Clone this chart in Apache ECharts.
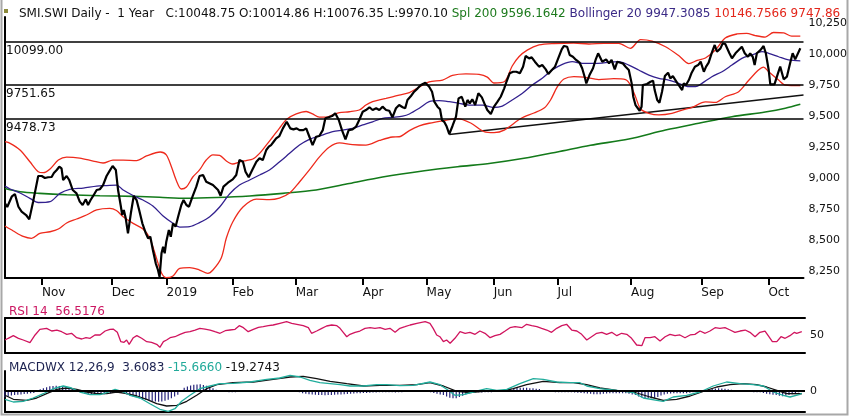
<!DOCTYPE html>
<html>
<head>
<meta charset="utf-8">
<script src="https://cdn.jsdelivr.net/npm/echarts@6/dist/echarts.min.js"></script>
<style>
  html, body { margin: 0; padding: 0; background: #fff; }
  #main { width: 850px; height: 417px; }
</style>
</head>
<body>
<div id="main"></div>
<script>
// trading-day index (0 = mid Oct 2018, 249 = mid Oct 2019) and values
var monthTicks = [11.6, 33.4, 50.6, 71.25, 91, 112, 132, 153, 173, 196, 218, 239];
var monthNames = ['Nov', 'Dec', '2019', 'Feb', 'Mar', 'Apr', 'May', 'Jun', 'Jul', 'Aug', 'Sep', 'Oct'];
var priceTicks = [8250, 8500, 8750, 9000, 9250, 9500, 9750, 10000, 10250];
var levels = [10099.00, 9751.65, 9478.73];

var closePts = [[0,8797],[0.7,8767],[2.1,8850],[3.1,8872],[4.2,8769],[5.2,8729],[6.6,8702],[7.6,8667],[8.8,8810],[10.4,9017],[11.5,9017],[12.5,9001],[13.5,9007],[14.6,9009],[15.3,9041],[16.2,9066],[17.0,9092],[17.7,9079],[18.2,8985],[19.3,9017],[20.1,8985],[21.2,8904],[22.4,8877],[23.4,8810],[24.3,8783],[25.3,8829],[26.0,8783],[26.8,8823],[27.6,8856],[28.7,8904],[29.7,8910],[30.7,8944],[31.8,9017],[32.8,9060],[33.7,9098],[34.7,9066],[35.4,8904],[36.2,8783],[36.7,8702],[37.2,8742],[37.8,8675],[38.5,8554],[39.4,8716],[40.3,8856],[41.2,8823],[42.0,8742],[43.0,8635],[44.1,8554],[44.8,8514],[45.5,8527],[46.3,8420],[47.2,8312],[47.9,8258],[48.4,8202],[49.0,8393],[49.5,8446],[50.0,8393],[50.5,8487],[51.3,8581],[51.9,8527],[52.6,8635],[53.4,8608],[54.2,8688],[55.2,8783],[55.9,8823],[56.8,8783],[57.6,8769],[58.7,8850],[59.9,8931],[60.9,9017],[62.0,9025],[63.0,8971],[65.1,8944],[66.7,8904],[67.5,8858],[68.4,8931],[69.8,8963],[71.3,8990],[72.4,9025],[73.4,9146],[74.5,9132],[75.3,9052],[76.3,9007],[77.4,9066],[78.7,9132],[79.7,9160],[80.7,9146],[81.8,9227],[82.6,9254],[83.3,9267],[84.1,9294],[84.9,9321],[85.9,9340],[87.0,9402],[88.2,9455],[89.3,9402],[90.3,9394],[91.3,9402],[92.2,9388],[93.4,9388],[94.3,9402],[95.3,9334],[96.3,9267],[97.4,9334],[98.4,9340],[99.5,9388],[100.3,9483],[101.3,9491],[102.4,9501],[103.4,9523],[104.5,9469],[105.5,9388],[106.6,9313],[107.6,9388],[108.8,9394],[109.9,9415],[110.9,9469],[112.0,9536],[113.0,9550],[114.1,9572],[115.1,9550],[116.2,9564],[117.2,9550],[118.2,9577],[119.3,9550],[120.3,9544],[121.3,9491],[122.4,9564],[123.4,9590],[124.5,9572],[125.3,9564],[126.0,9631],[127.1,9663],[128.1,9698],[129.2,9725],[130.2,9752],[131.6,9770],[132.8,9738],[133.7,9698],[134.4,9617],[135.4,9577],[136.2,9556],[136.8,9469],[137.5,9455],[138.2,9421],[139.1,9355],[140.1,9421],[141.2,9496],[142.0,9644],[143.0,9657],[144.1,9577],[144.8,9631],[145.5,9604],[146.3,9636],[147.2,9590],[148.2,9685],[149.3,9652],[150.3,9590],[151.0,9550],[152.1,9518],[153.1,9577],[154.2,9617],[155.2,9657],[156.3,9725],[157.0,9778],[158.0,9846],[159.1,9859],[160.1,9859],[161.2,9846],[162.2,9900],[163.0,9986],[164.1,9967],[164.9,9975],[165.9,9940],[167.2,9900],[168.2,9913],[169.3,9878],[170.1,9841],[171.2,9873],[172.2,9900],[173.2,9967],[174.3,10040],[175.0,10067],[176.0,10061],[176.8,9994],[177.8,9980],[178.8,9954],[179.9,9932],[180.7,9887],[181.6,9806],[182.0,9765],[183.0,9832],[184.1,9887],[184.9,9954],[185.7,10008],[187.0,9940],[188.2,9959],[189.1,9927],[189.9,9954],[190.9,9878],[191.7,9940],[192.7,9932],[193.4,9927],[194.3,9900],[195.3,9873],[196.2,9765],[196.7,9657],[197.4,9590],[198.7,9544],[199.3,9577],[199.7,9752],[201.0,9760],[202.1,9778],[202.9,9787],[203.4,9711],[204.2,9631],[204.9,9609],[205.7,9698],[206.6,9824],[207.6,9851],[208.3,9806],[209.1,9824],[209.9,9792],[210.9,9752],[212.0,9711],[212.5,9765],[213.2,9752],[214.1,9792],[214.9,9846],[216.0,9900],[217.0,9913],[217.8,9940],[218.8,9859],[219.5,9900],[220.3,9932],[221.3,10013],[222.2,10075],[222.9,10021],[224.0,10048],[224.7,10088],[225.5,10083],[226.8,10008],[227.6,9967],[228.7,10008],[229.7,10034],[230.7,10061],[231.6,10008],[232.6,9980],[233.3,10008],[234.1,9980],[234.7,9913],[235.4,10008],[236.5,10034],[237.5,10067],[238.2,10008],[239.1,9873],[239.6,9757],[240.9,9757],[242.0,9846],[242.7,9900],[243.8,9798],[244.8,9819],[245.8,9927],[246.6,10008],[247.4,9959],[249,10048.75]];

var upperPts = [[0,9294],[1.6,9281],[4.7,9227],[7.8,9132],[10.4,9052],[12.0,9044],[14.1,9074],[16.7,9146],[19.3,9170],[23.4,9162],[27.6,9138],[30.7,9122],[33.8,9146],[37.0,9146],[41.2,9142],[44.3,9179],[48.6,9211],[50.5,9187],[52.1,9092],[53.7,8977],[55.2,8912],[56.8,8928],[58.8,9009],[60.9,9066],[63.0,9146],[65.1,9187],[67.2,9183],[69.3,9138],[71.3,9114],[73.4,9130],[75.5,9142],[77.6,9154],[79.7,9200],[81.8,9267],[83.8,9332],[85.9,9402],[88.2,9475],[91.2,9518],[94.3,9538],[96.3,9518],[98.4,9493],[100.5,9493],[102.6,9510],[104.7,9528],[107.8,9536],[110.9,9550],[113.0,9590],[115.1,9617],[117.2,9631],[119.3,9644],[121.3,9657],[123.4,9671],[126.6,9691],[129.7,9736],[132.8,9778],[137.0,9792],[140.1,9829],[144.3,9841],[148.4,9837],[151.0,9816],[153.1,9768],[156.3,9778],[158.8,9905],[160.9,9980],[163.5,10034],[167.2,10075],[171.9,10087],[178.1,10091],[182.8,10083],[187.5,10088],[192.2,10088],[195.8,10048],[199.0,10119],[202.6,10107],[206.8,10061],[210.9,9990],[214.1,9925],[216.7,9950],[219.3,9970],[222.4,10034],[225.5,10131],[229.2,10164],[232.2,10169],[234.9,10151],[238.0,10139],[240.6,10176],[243.8,10172],[246.3,10147],[249,10146.76]];

var lowerPts = [[0,8613],[2.6,8573],[5.7,8529],[8.3,8514],[10.9,8554],[14.1,8567],[16.7,8589],[19.3,8638],[22.4,8670],[25.5,8702],[28.7,8743],[32.8,8755],[34.9,8738],[37.0,8688],[40.1,8635],[43.2,8589],[45.3,8516],[47.4,8355],[49.0,8234],[50.5,8196],[52.6,8210],[54.7,8272],[57.8,8278],[60.9,8258],[63.5,8231],[65.1,8258],[67.7,8355],[69.3,8516],[71.3,8646],[74.5,8767],[78.7,8831],[82.8,8827],[85.9,8839],[89.1,8880],[92.2,8969],[95.3,9066],[98.4,9170],[101.6,9251],[104.7,9284],[108.8,9271],[113.0,9267],[117.2,9304],[121.3,9332],[123.4,9334],[126.6,9384],[129.7,9421],[132.8,9443],[137.5,9465],[141.7,9481],[145.8,9445],[150.0,9376],[153.1,9368],[156.3,9388],[161.5,9481],[165.6,9526],[168.8,9566],[170.8,9631],[172.9,9736],[175.0,9800],[178.1,9820],[181.3,9816],[185.9,9796],[190.6,9804],[194.3,9796],[195.8,9752],[197.4,9657],[199.0,9558],[201.6,9523],[204.7,9510],[208.8,9522],[212.0,9550],[215.1,9572],[219.3,9615],[222.4,9611],[225.5,9657],[229.7,9698],[232.8,9788],[235.9,9873],[237.5,9897],[239.1,9859],[242.2,9792],[244.3,9752],[249,9747.86]];

var midPts = [[0,8936],[1.6,8912],[4.7,8880],[7.8,8837],[10.4,8803],[14.1,8810],[17.2,8877],[20.3,8910],[24.5,8920],[28.7,8936],[31.8,8940],[34.9,8944],[37.0,8904],[40.1,8860],[43.2,8823],[46.3,8775],[49.5,8694],[52.6,8635],[54.7,8605],[57.8,8608],[60.9,8640],[64.1,8688],[67.2,8767],[70.3,8872],[73.4,8944],[76.6,8985],[79.7,9025],[82.8,9066],[85.9,9130],[89.1,9200],[92.2,9267],[95.3,9313],[98.4,9340],[102.6,9375],[105.7,9388],[108.8,9402],[112.0,9429],[115.1,9455],[118.2,9483],[121.3,9491],[124.5,9501],[126.6,9518],[129.7,9564],[132.8,9617],[135.9,9625],[139.1,9617],[142.2,9604],[145.3,9590],[149.5,9590],[152.6,9572],[155.7,9582],[158.8,9631],[162.0,9685],[165.1,9752],[168.2,9806],[171.3,9873],[174.5,9919],[177.6,9940],[180.7,9927],[183.8,9927],[187.0,9929],[189.1,9936],[192.2,9940],[195.3,9913],[198.4,9873],[201.6,9832],[204.7,9806],[207.8,9792],[210.9,9765],[214.1,9738],[216.2,9738],[218.2,9765],[221.3,9819],[224.5,9859],[227.6,9913],[230.7,9967],[233.8,9994],[237.0,10021],[239.1,10008],[242.2,9980],[245.3,9954],[249,9947.31]];

var sma200Pts = [[0,8916],[4.7,8890],[10.9,8877],[19.3,8866],[29.7,8858],[40.1,8853],[48.4,8845],[56.8,8837],[66.2,8843],[76.6,8856],[87.0,8877],[97.4,8904],[107.8,8956],[118.2,9009],[131.3,9060],[141.7,9092],[152.1,9120],[162.5,9160],[172.9,9211],[183.3,9265],[195.3,9316],[206.8,9388],[217.2,9443],[227.6,9496],[238.0,9534],[244.3,9564],[249,9596.16]];

var trendPts = [[139.1, 9352], [250, 9671]];

var rsiPts = [[0,42.3],[1.0,45.2],[2.6,49.7],[4.2,45.2],[5.7,42.3],[7.8,37.7],[9.4,50.9],[10.9,60.6],[13.0,62.3],[14.6,57.7],[16.2,59.4],[17.7,56.5],[19.3,52.0],[20.8,53.8],[22.4,46.2],[24.0,44.0],[25.3,46.2],[26.6,45.2],[28.1,50.9],[29.7,50.9],[31.3,57.7],[32.8,60.6],[33.8,61.1],[35.1,55.5],[36.2,39.4],[37.2,38.3],[38.0,42.3],[38.8,34.9],[40.1,46.2],[41.2,49.7],[42.7,45.2],[44.3,39.4],[45.8,38.3],[47.4,34.9],[48.4,29.8],[49.5,39.4],[50.5,42.3],[51.6,46.2],[53.1,47.9],[54.7,52.0],[56.3,55.5],[57.8,56.5],[59.4,59.4],[60.9,62.3],[62.5,61.1],[64.1,59.4],[65.6,56.5],[67.2,53.8],[68.8,58.2],[70.3,59.4],[71.9,60.6],[73.2,66.8],[74.5,63.4],[76.0,56.5],[77.6,60.6],[79.2,64.1],[80.7,65.1],[82.3,66.8],[83.8,68.0],[85.9,70.9],[88.0,73.7],[89.6,70.9],[91.2,69.2],[93.2,66.8],[94.8,63.4],[95.8,53.8],[97.4,57.7],[99.0,62.3],[100.5,66.3],[102.1,68.0],[103.7,66.8],[104.7,62.3],[105.7,55.5],[106.8,47.9],[107.8,52.0],[109.4,55.5],[110.9,57.7],[112.5,62.3],[114.1,63.4],[115.6,62.3],[117.2,63.4],[118.8,60.6],[120.3,62.3],[121.9,55.5],[123.4,62.3],[125.0,65.1],[126.6,68.0],[128.7,70.9],[131.3,73.7],[132.8,70.9],[133.8,62.3],[134.9,50.9],[135.9,47.9],[137.0,39.4],[138.0,42.3],[139.1,36.6],[140.6,45.2],[142.2,56.5],[143.8,53.8],[145.3,55.5],[146.9,52.0],[148.4,57.7],[150.0,53.8],[151.6,46.2],[153.1,49.7],[154.7,52.0],[156.3,57.7],[157.8,63.4],[159.4,65.1],[161.5,63.4],[163.0,69.2],[164.6,66.8],[166.2,65.1],[167.7,62.3],[169.3,59.4],[170.8,55.5],[172.4,62.3],[174.0,66.8],[175.5,69.2],[177.1,59.4],[178.7,57.7],[180.2,52.0],[181.8,42.3],[183.3,47.9],[184.9,53.8],[186.5,55.5],[188.0,52.0],[189.6,55.5],[191.2,49.7],[192.7,53.8],[194.3,52.0],[195.8,45.2],[197.4,33.7],[199.0,32.5],[200.0,46.2],[201.6,46.2],[203.1,47.9],[204.7,40.6],[206.3,47.9],[207.8,52.0],[209.4,49.7],[210.9,50.9],[212.5,46.2],[214.1,50.9],[215.6,52.0],[217.2,57.7],[218.8,53.8],[220.3,57.7],[221.9,63.4],[223.4,62.3],[225.0,63.4],[226.6,59.4],[228.1,55.5],[229.7,57.7],[231.3,59.4],[232.8,55.5],[234.4,47.9],[235.9,55.5],[237.5,57.7],[238.5,49.7],[239.8,39.4],[241.2,39.4],[242.5,47.9],[243.8,45.2],[245.3,49.7],[246.7,55.5],[247.4,53.8],[249,56.5]];

var macdPts = [[0,-58],[2.6,-77],[5.7,-72],[8.8,-49],[12.0,-19],[15.1,16],[18.2,35],[20.8,21],[23.4,-7],[26.6,-26],[29.7,-26],[31.8,-12],[34.4,12],[36.5,-2],[39.1,-30],[42.2,-49],[45.3,-89],[48.4,-128],[51.0,-142],[53.1,-124],[55.2,-72],[57.8,-30],[60.9,16],[64.1,35],[67.2,51],[71.3,54],[76.6,63],[81.8,82],[85.9,91],[89.1,110],[92.2,98],[95.3,75],[98.4,58],[101.6,51],[104.7,44],[107.8,35],[112.0,35],[116.2,44],[119.3,44],[123.4,38],[127.6,40],[132.8,63],[135.9,44],[138.5,5],[140.6,-30],[143.2,-26],[146.3,-7],[150.5,16],[153.7,5],[156.8,12],[160.9,51],[165.1,86],[168.2,82],[172.4,63],[176.6,58],[179.7,58],[181.8,35],[185.9,16],[191.2,5],[196.4,-12],[199.5,-49],[203.7,-65],[205.7,-72],[208.8,-42],[213.0,-30],[217.2,-7],[221.3,35],[225.5,63],[229.7,51],[233.8,44],[237.0,35],[240.1,-7],[243.2,-30],[245.3,-42],[248.4,-23],[249,-15.67]];

var signalPts = [[0,-30],[2.6,-58],[6.8,-65],[9.9,-49],[13.0,-19],[16.2,12],[19.3,21],[22.4,12],[25.5,-7],[28.7,-19],[31.8,-19],[34.9,-7],[38.0,-19],[41.2,-35],[44.3,-58],[47.4,-89],[50.5,-105],[53.7,-100],[56.8,-72],[59.9,-30],[63.0,16],[66.2,44],[71.3,58],[77.6,63],[83.8,82],[89.1,98],[93.2,103],[97.4,86],[101.6,68],[106.8,51],[112.0,35],[117.2,40],[123.4,40],[128.7,44],[132.8,58],[137.0,35],[141.2,-2],[145.3,-12],[149.5,-2],[154.7,-2],[158.8,16],[163.0,44],[168.2,68],[173.4,58],[177.6,58],[181.8,44],[185.9,21],[191.2,5],[196.4,-7],[201.6,-42],[205.7,-65],[209.9,-58],[214.1,-35],[218.2,-2],[222.4,28],[226.6,44],[230.7,51],[234.9,44],[238.0,28],[241.2,5],[244.3,-19],[249,-19.27]];

// one histogram bar per trading day
var histVals = [
  -44,-38,-32,-28,-26,-24,-21,-19,-16,-14,
  -5,12,20,27,33,35,37,35,31,26,
  22,16,9,0,-14,-21,-25,-28,-27,-26,
  -24,-22,-19,-16,-12,-8,-5,-12,-22,-33,
  -38,-44,-51,-57,-62,-67,-70,-73,-75,-73,
  -69,-62,-50,-38,-26,-5,22,32,39,43,
  46,47,42,37,28,19,8,1,-4,-7,
  -9,-9,-8,-7,-6,-6,-5,-5,-3,-1,
  2,4,5,6,6,6,5,5,6,5,
  3,-2,-9,-15,-20,-23,-25,-27,-28,-28,
  -29,-28,-28,-27,-25,-24,-22,-21,-19,-18,
  -16,-15,-14,-14,-12,-11,-10,-9,-9,-9,
  -8,-9,-10,-9,-8,-7,-6,-5,-5,-5,
  -6,-6,-7,-9,-14,-19,-24,-28,-38,-47,
  -50,-51,-42,-34,-24,-18,-12,-9,-9,-10,
  -9,-9,-8,-7,-5,0,6,10,16,19,
  21,22,23,22,20,19,16,14,7,0,
  -4,-7,-8,-9,-9,-9,-9,-9,-10,-12,
  -14,-16,-18,-20,-22,-23,-22,-20,-18,-16,
  -16,-16,-16,-16,-16,-20,-24,-28,-38,-46,
  -49,-51,-50,-48,-42,-32,-25,-20,-17,-16,
  -16,-16,-16,-15,-12,-8,-4,0,5,10,
  14,16,18,19,18,15,12,9,5,2,
  -2,-5,-6,-7,-8,-9,-9,-14,-20,-23,
  -26,-28,-33,-37,-33,-28,-22,-16,-9,4
];

var FONT = 'DejaVu Sans';
var chart = echarts.init(document.getElementById('main'), null, { renderer: 'canvas' });

function noAxisX(grid, pos) {
  return {
    gridIndex: grid, type: 'value', min: 0, max: 250, position: pos,
    axisLine: { onZero: false, lineStyle: { color: '#000', width: 2 } },
    axisTick: { show: false }, axisLabel: { show: false }, splitLine: { show: false }
  };
}

var lineBase = { type: 'line', showSymbol: false, symbol: 'none', silent: true, animation: false };

var option = {
  backgroundColor: '#fff',
  animation: false,
  title: [
    {
      left: 14, top: 3,
      text: '{k|SMI.SWI Daily -  1 Year   C:10048.75 O:10014.86 H:10076.35 L:9970.10} {g|Spl 200 9596.1642} {b|Bollinger 20 9947.3085} {r|10146.7566 9747.86}',
      textStyle: {
        fontFamily: FONT, fontSize: 12, fontWeight: 'normal',
        rich: {
          k: { color: '#111', fontFamily: FONT, fontSize: 12 },
          g: { color: '#1d7a1d', fontFamily: FONT, fontSize: 12 },
          b: { color: '#3b2a86', fontFamily: FONT, fontSize: 12 },
          r: { color: '#e3261b', fontFamily: FONT, fontSize: 12 }
        }
      }
    },
    {
      left: 4, top: 301, text: 'RSI 14  56.5176',
      textStyle: { fontFamily: FONT, fontSize: 12, fontWeight: 'normal', color: '#cc1762' }
    },
    {
      left: 4, top: 357,
      text: '{n|MACDWX 12,26,9  3.6083} {t|-15.6660} {k|-19.2743}',
      textStyle: {
        fontFamily: FONT, fontSize: 12, fontWeight: 'normal',
        rich: {
          n: { color: '#1c2250', fontFamily: FONT, fontSize: 12 },
          t: { color: '#22aa9a', fontFamily: FONT, fontSize: 12 },
          k: { color: '#111', fontFamily: FONT, fontSize: 12 }
        }
      }
    }
  ],
  graphic: [
    { type: 'rect', shape: { x: 1.5, y: -4, width: 846, height: 418.5 },
      style: { fill: 'none', stroke: '#a8a8a8', lineWidth: 2 }, silent: true, z: 0 },
    { type: 'rect', shape: { x: 4, y: 9, width: 4, height: 4 },
      style: { fill: '#8c8a3c' }, silent: true }
  ],
  grid: [
    { left: 5, right: 45, top: 17, height: 261 },
    { left: 5, right: 45, top: 318, height: 35 },
    { left: 5, right: 45, top: 371, height: 41 }
  ],
  xAxis: [
    {
      gridIndex: 0, type: 'value', min: 0, max: 250,
      axisLine: { onZero: false, lineStyle: { color: '#000', width: 2 } },
      axisTick: { customValues: monthTicks, length: 7, lineStyle: { color: '#000', width: 2 } },
      axisLabel: {
        customValues: monthTicks, align: 'left', margin: 9,
        fontFamily: FONT, fontSize: 12, color: '#111',
        formatter: function (v) {
          var i = monthTicks.indexOf(v);
          return i >= 0 ? monthNames[i] : '';
        }
      },
      splitLine: { show: false }
    },
    noAxisX(1, 'bottom'),
    noAxisX(1, 'top'),
    noAxisX(2, 'bottom')
  ],
  yAxis: [
    {
      gridIndex: 0, type: 'value', position: 'right', min: 8193.5, max: 10301,
      axisLine: { show: true, lineStyle: { color: '#000', width: 2 } },
      axisTick: { show: false },
      axisLabel: { customValues: priceTicks, margin: 5, fontFamily: FONT, fontSize: 11, color: '#111' },
      splitLine: { show: false }
    },
    {
      gridIndex: 1, type: 'value', position: 'right', min: 20, max: 80,
      axisLine: { show: true, lineStyle: { color: '#000', width: 2 } },
      axisTick: { show: false },
      axisLabel: { customValues: [50], margin: 5, fontFamily: FONT, fontSize: 11, color: '#111' },
      splitLine: { show: false }
    },
    {
      gridIndex: 2, type: 'value', position: 'right', min: -147, max: 140,
      axisLine: { show: true, lineStyle: { color: '#000', width: 2 } },
      axisTick: { show: false },
      axisLabel: { customValues: [0], margin: 5, fontFamily: FONT, fontSize: 11, color: '#111' },
      splitLine: { show: false }
    }
  ],
  series: [
    Object.assign({}, lineBase, {
      name: 'levels', xAxisIndex: 0, yAxisIndex: 0, data: [],
      markLine: {
        silent: true, symbol: 'none', animation: false,
        lineStyle: { color: '#000', width: 1.5, type: 'solid' },
        label: {
          position: 'insideStartBottom', distance: [1, 3],
          fontFamily: FONT, fontSize: 12, color: '#111',
          formatter: function (p) { return p.value.toFixed(2); }
        },
        data: levels.map(function (v) { return { yAxis: v }; })
      }
    }),
    Object.assign({}, lineBase, { name: 'SMA200', xAxisIndex: 0, yAxisIndex: 0, data: sma200Pts, smooth: 0.3,
      lineStyle: { color: '#137a1a', width: 1.6 } }),
    Object.assign({}, lineBase, { name: 'trend', xAxisIndex: 0, yAxisIndex: 0, data: trendPts,
      lineStyle: { color: '#111', width: 1.4 } }),
    Object.assign({}, lineBase, { name: 'upper', xAxisIndex: 0, yAxisIndex: 0, data: upperPts, smooth: 0.3,
      lineStyle: { color: '#ee2a1c', width: 1.3 } }),
    Object.assign({}, lineBase, { name: 'lower', xAxisIndex: 0, yAxisIndex: 0, data: lowerPts, smooth: 0.3,
      lineStyle: { color: '#ee2a1c', width: 1.3 } }),
    Object.assign({}, lineBase, { name: 'mid', xAxisIndex: 0, yAxisIndex: 0, data: midPts, smooth: 0.3,
      lineStyle: { color: '#32208e', width: 1.3 } }),
    Object.assign({}, lineBase, { name: 'close', xAxisIndex: 0, yAxisIndex: 0, data: closePts,
      lineStyle: { color: '#000', width: 2.2 } }),
    Object.assign({}, lineBase, { name: 'RSI', xAxisIndex: 1, yAxisIndex: 1, data: rsiPts,
      lineStyle: { color: '#d0145e', width: 1.3 } }),
    {
      name: 'hist', type: 'bar', xAxisIndex: 3, yAxisIndex: 2, silent: true, animation: false,
      barWidth: 1.2,
      itemStyle: { color: '#26247a' },
      data: histVals.map(function (v, i) { return [i, v]; }),
      markLine: {
        silent: true, symbol: 'none', animation: false, label: { show: false },
        lineStyle: { color: '#000', width: 2, type: 'solid' },
        data: [{ yAxis: 0 }]
      }
    },
    Object.assign({}, lineBase, { name: 'signal', xAxisIndex: 3, yAxisIndex: 2, data: signalPts,
      lineStyle: { color: '#111', width: 1.3 } }),
    Object.assign({}, lineBase, { name: 'MACD', xAxisIndex: 3, yAxisIndex: 2, data: macdPts,
      lineStyle: { color: '#21ad9c', width: 1.3 } })
  ]
};

chart.setOption(option);
</script>
</body>
</html>
